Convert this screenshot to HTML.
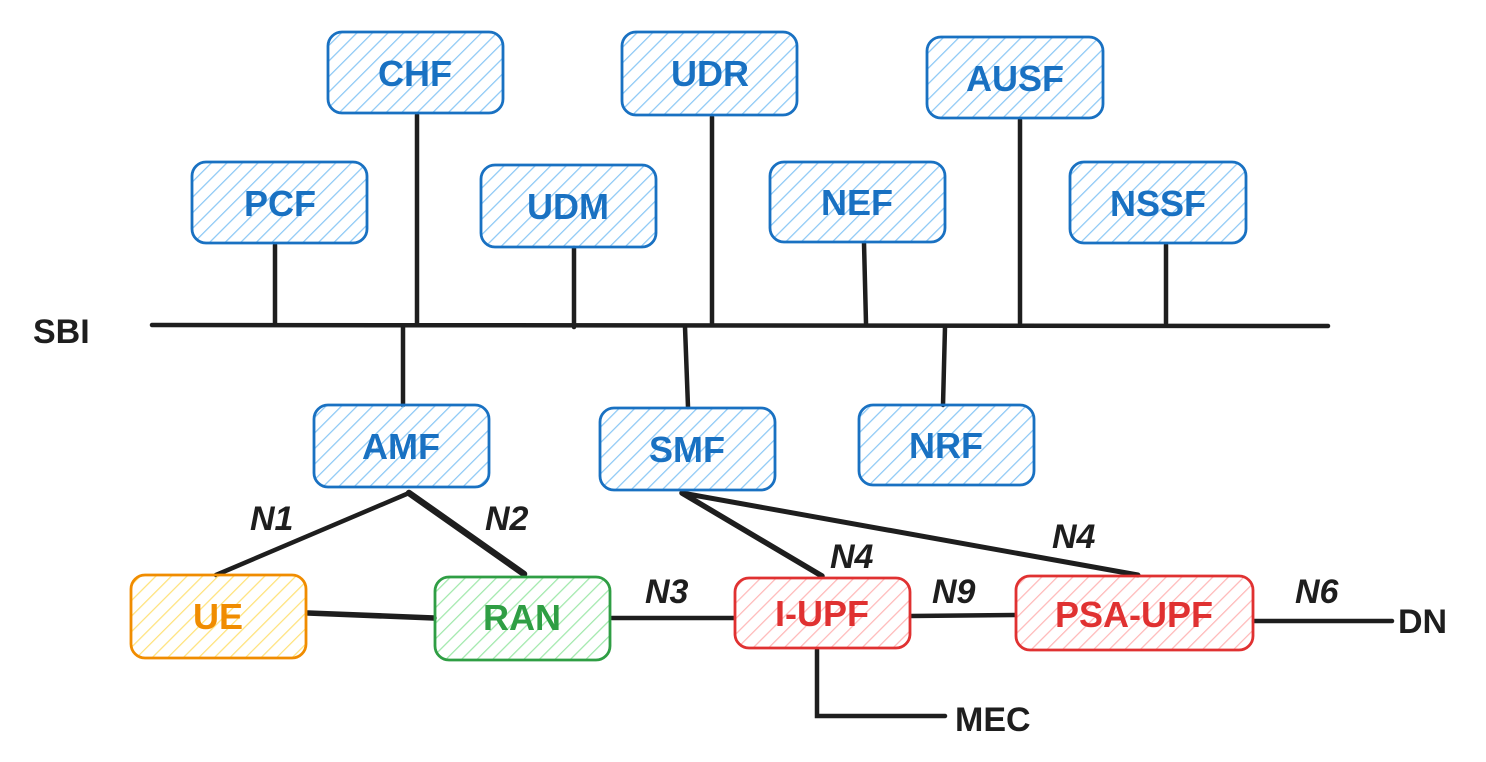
<!DOCTYPE html>
<html><head><meta charset="utf-8"><style>
html,body{margin:0;padding:0;background:#fff;}
svg{display:block;}
text{font-family:"Liberation Sans",sans-serif;}
</style></head><body>
<svg width="1486" height="762" viewBox="0 0 1486 762" xmlns="http://www.w3.org/2000/svg">
<defs>
<pattern id="hb" width="11" height="11" patternUnits="userSpaceOnUse" patternTransform="rotate(45)"><line x1="0" y1="0" x2="0" y2="11" stroke="#8cc8f5" stroke-width="2.5"/></pattern>
<pattern id="ho" width="11" height="11" patternUnits="userSpaceOnUse" patternTransform="rotate(45)"><line x1="0" y1="0" x2="0" y2="11" stroke="#ffe27a" stroke-width="2.5"/></pattern>
<pattern id="hg" width="11" height="11" patternUnits="userSpaceOnUse" patternTransform="rotate(45)"><line x1="0" y1="0" x2="0" y2="11" stroke="#a0e8ab" stroke-width="2.5"/></pattern>
<pattern id="hr" width="11" height="11" patternUnits="userSpaceOnUse" patternTransform="rotate(45)"><line x1="0" y1="0" x2="0" y2="11" stroke="#ffb8b8" stroke-width="2.5"/></pattern>
</defs>
<g stroke="#1e1e1e" stroke-width="4.5" stroke-linecap="round" fill="none">
<line x1="152" y1="325" x2="1328" y2="326"/>
<line x1="275" y1="245" x2="275" y2="323"/>
<line x1="417" y1="115" x2="417" y2="323"/>
<line x1="574" y1="248" x2="574" y2="327"/>
<line x1="712" y1="117" x2="712" y2="323"/>
<line x1="864" y1="243" x2="866" y2="323"/>
<line x1="1020" y1="120" x2="1020" y2="323"/>
<line x1="1166" y1="245" x2="1166" y2="323"/>
<line x1="403" y1="327" x2="403" y2="405"/>
<line x1="685" y1="327" x2="688" y2="407"/>
<line x1="945" y1="327" x2="943" y2="405"/>
<line x1="409" y1="493" x2="216" y2="575"/>
<line x1="409" y1="493" x2="524" y2="574" stroke-width="6.5"/>
<line x1="682" y1="493" x2="822" y2="576" stroke-width="5.5"/>
<line x1="682" y1="493" x2="1138" y2="575" stroke-width="5"/>
<line x1="308" y1="613" x2="434" y2="618" stroke-width="5.5"/>
<line x1="612" y1="618" x2="734" y2="618"/>
<line x1="911" y1="616" x2="1015" y2="615"/>
<line x1="1254" y1="621" x2="1392" y2="621"/>
<polyline points="817,650 817,716 945,716"/>
</g>
<g stroke-width="2.8">
<rect x="328" y="32" width="175" height="81" rx="14" fill="url(#hb)" stroke="#1971c2"/>
<rect x="622" y="32" width="175" height="83" rx="14" fill="url(#hb)" stroke="#1971c2"/>
<rect x="927" y="37" width="176" height="81" rx="14" fill="url(#hb)" stroke="#1971c2"/>
<rect x="192" y="162" width="175" height="81" rx="14" fill="url(#hb)" stroke="#1971c2"/>
<rect x="481" y="165" width="175" height="82" rx="14" fill="url(#hb)" stroke="#1971c2"/>
<rect x="770" y="162" width="175" height="80" rx="14" fill="url(#hb)" stroke="#1971c2"/>
<rect x="1070" y="162" width="176" height="81" rx="14" fill="url(#hb)" stroke="#1971c2"/>
<rect x="314" y="405" width="175" height="82" rx="14" fill="url(#hb)" stroke="#1971c2"/>
<rect x="600" y="408" width="175" height="82" rx="14" fill="url(#hb)" stroke="#1971c2"/>
<rect x="859" y="405" width="175" height="80" rx="14" fill="url(#hb)" stroke="#1971c2"/>
<rect x="131" y="575" width="175" height="83" rx="14" fill="url(#ho)" stroke="#f08c00"/>
<rect x="435" y="577" width="175" height="83" rx="14" fill="url(#hg)" stroke="#2f9e44"/>
<rect x="735" y="578" width="175" height="70" rx="14" fill="url(#hr)" stroke="#e03131"/>
<rect x="1016" y="576" width="237" height="74" rx="14" fill="url(#hr)" stroke="#e03131"/>
</g>
<g font-size="36" font-weight="bold" text-anchor="middle" fill="#1971c2">
<text x="415" y="86">CHF</text>
<text x="710" y="86">UDR</text>
<text x="1015" y="91">AUSF</text>
<text x="280" y="216">PCF</text>
<text x="568" y="219">UDM</text>
<text x="857" y="215">NEF</text>
<text x="1158" y="216">NSSF</text>
<text x="401" y="459">AMF</text>
<text x="687" y="462">SMF</text>
<text x="946" y="458">NRF</text>
<text x="218" y="629" fill="#f08c00">UE</text>
<text x="522" y="630" fill="#2f9e44">RAN</text>
<text x="822" y="626" fill="#e03131">I-UPF</text>
<text x="1134" y="627" fill="#e03131">PSA-UPF</text>
</g>
<g font-size="34" font-weight="bold" fill="#1e1e1e">
<text x="33" y="343">SBI</text>
<text x="250" y="530" font-style="italic">N1</text>
<text x="485" y="530" font-style="italic">N2</text>
<text x="645" y="603" font-style="italic">N3</text>
<text x="830" y="568" font-style="italic">N4</text>
<text x="1052" y="548" font-style="italic">N4</text>
<text x="932" y="603" font-style="italic">N9</text>
<text x="1295" y="603" font-style="italic">N6</text>
<text x="1398" y="633">DN</text>
<text x="955" y="731">MEC</text>
</g>
</svg>
</body></html>
